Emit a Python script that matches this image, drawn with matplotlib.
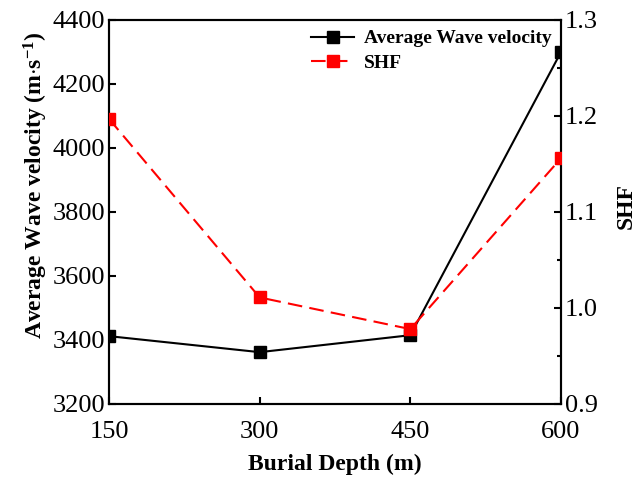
import matplotlib
matplotlib.use('Agg')
import matplotlib.pyplot as plt
from matplotlib.ticker import MultipleLocator, FormatStrFormatter

# Data
depth = [150, 300, 450, 600]
wave_velocity = [3412, 3362, 3415, 4300]
shf = [1.197, 1.011, 0.978, 1.156]

plt.rcParams['font.family'] = 'Liberation Serif'
plt.rcParams['mathtext.fontset'] = 'custom'
plt.rcParams['mathtext.rm'] = 'Liberation Serif'
plt.rcParams['mathtext.bf'] = 'Liberation Serif:bold'

fig = plt.figure(figsize=(6.38, 4.78), dpi=100)
ax = fig.add_axes([109 / 638, 1 - 404 / 478, (561 - 109) / 638, (404 - 20) / 478])
ax2 = ax.twinx()

l1, = ax.plot(depth, wave_velocity, color='black', lw=1.5, marker='s', ms=8.5,
              label='Average Wave velocity', zorder=3)
l2, = ax2.plot(depth, shf, color='red', lw=1.5, ls=(0, (7, 3.5)), marker='s', ms=8.5,
               label='SHF', zorder=3)

ax.set_xlim(150, 600)
ax.set_ylim(3200, 4400)
ax2.set_ylim(0.9, 1.3)
ax.set_xticks(depth)
ax.yaxis.set_major_locator(MultipleLocator(200))
ax2.yaxis.set_major_locator(MultipleLocator(0.1))
ax2.yaxis.set_minor_locator(MultipleLocator(0.05))
ax2.yaxis.set_major_formatter(FormatStrFormatter('%.1f'))

for a in (ax, ax2):
    for s in a.spines.values():
        s.set_linewidth(1.5)
ax.tick_params(direction='in', length=5, width=1.5, labelsize=19, pad=3)
ax.tick_params(axis='x', pad=12)
ax2.tick_params(direction='in', length=5, width=1.5, labelsize=19, pad=3)
ax2.tick_params(which='minor', direction='in', length=3, width=1.5)

ax.set_xlabel('Burial Depth (m)', fontsize=17, fontweight='bold', labelpad=8)
ax.set_ylabel(r'Average Wave velocity ($\mathbf{m{\cdot}s^{-1}}$)', fontsize=17,
              fontweight='bold')
ax.yaxis.set_label_coords(-0.13, 0.57)
ax2.set_ylabel('SHF', fontsize=17, fontweight='bold')
ax2.yaxis.label.set_rotation(90)
ax2.yaxis.set_label_coords(1.12, 0.515)

leg = ax.legend(handles=[l1, l2], loc='upper right', bbox_to_anchor=(1.0, 1.0),
                frameon=False, prop={'weight': 'bold', 'size': 14},
                handlelength=2.2, handletextpad=0.5, borderaxespad=0.1,
                labelspacing=0.35)

fig.savefig('out.png', dpi=100)
